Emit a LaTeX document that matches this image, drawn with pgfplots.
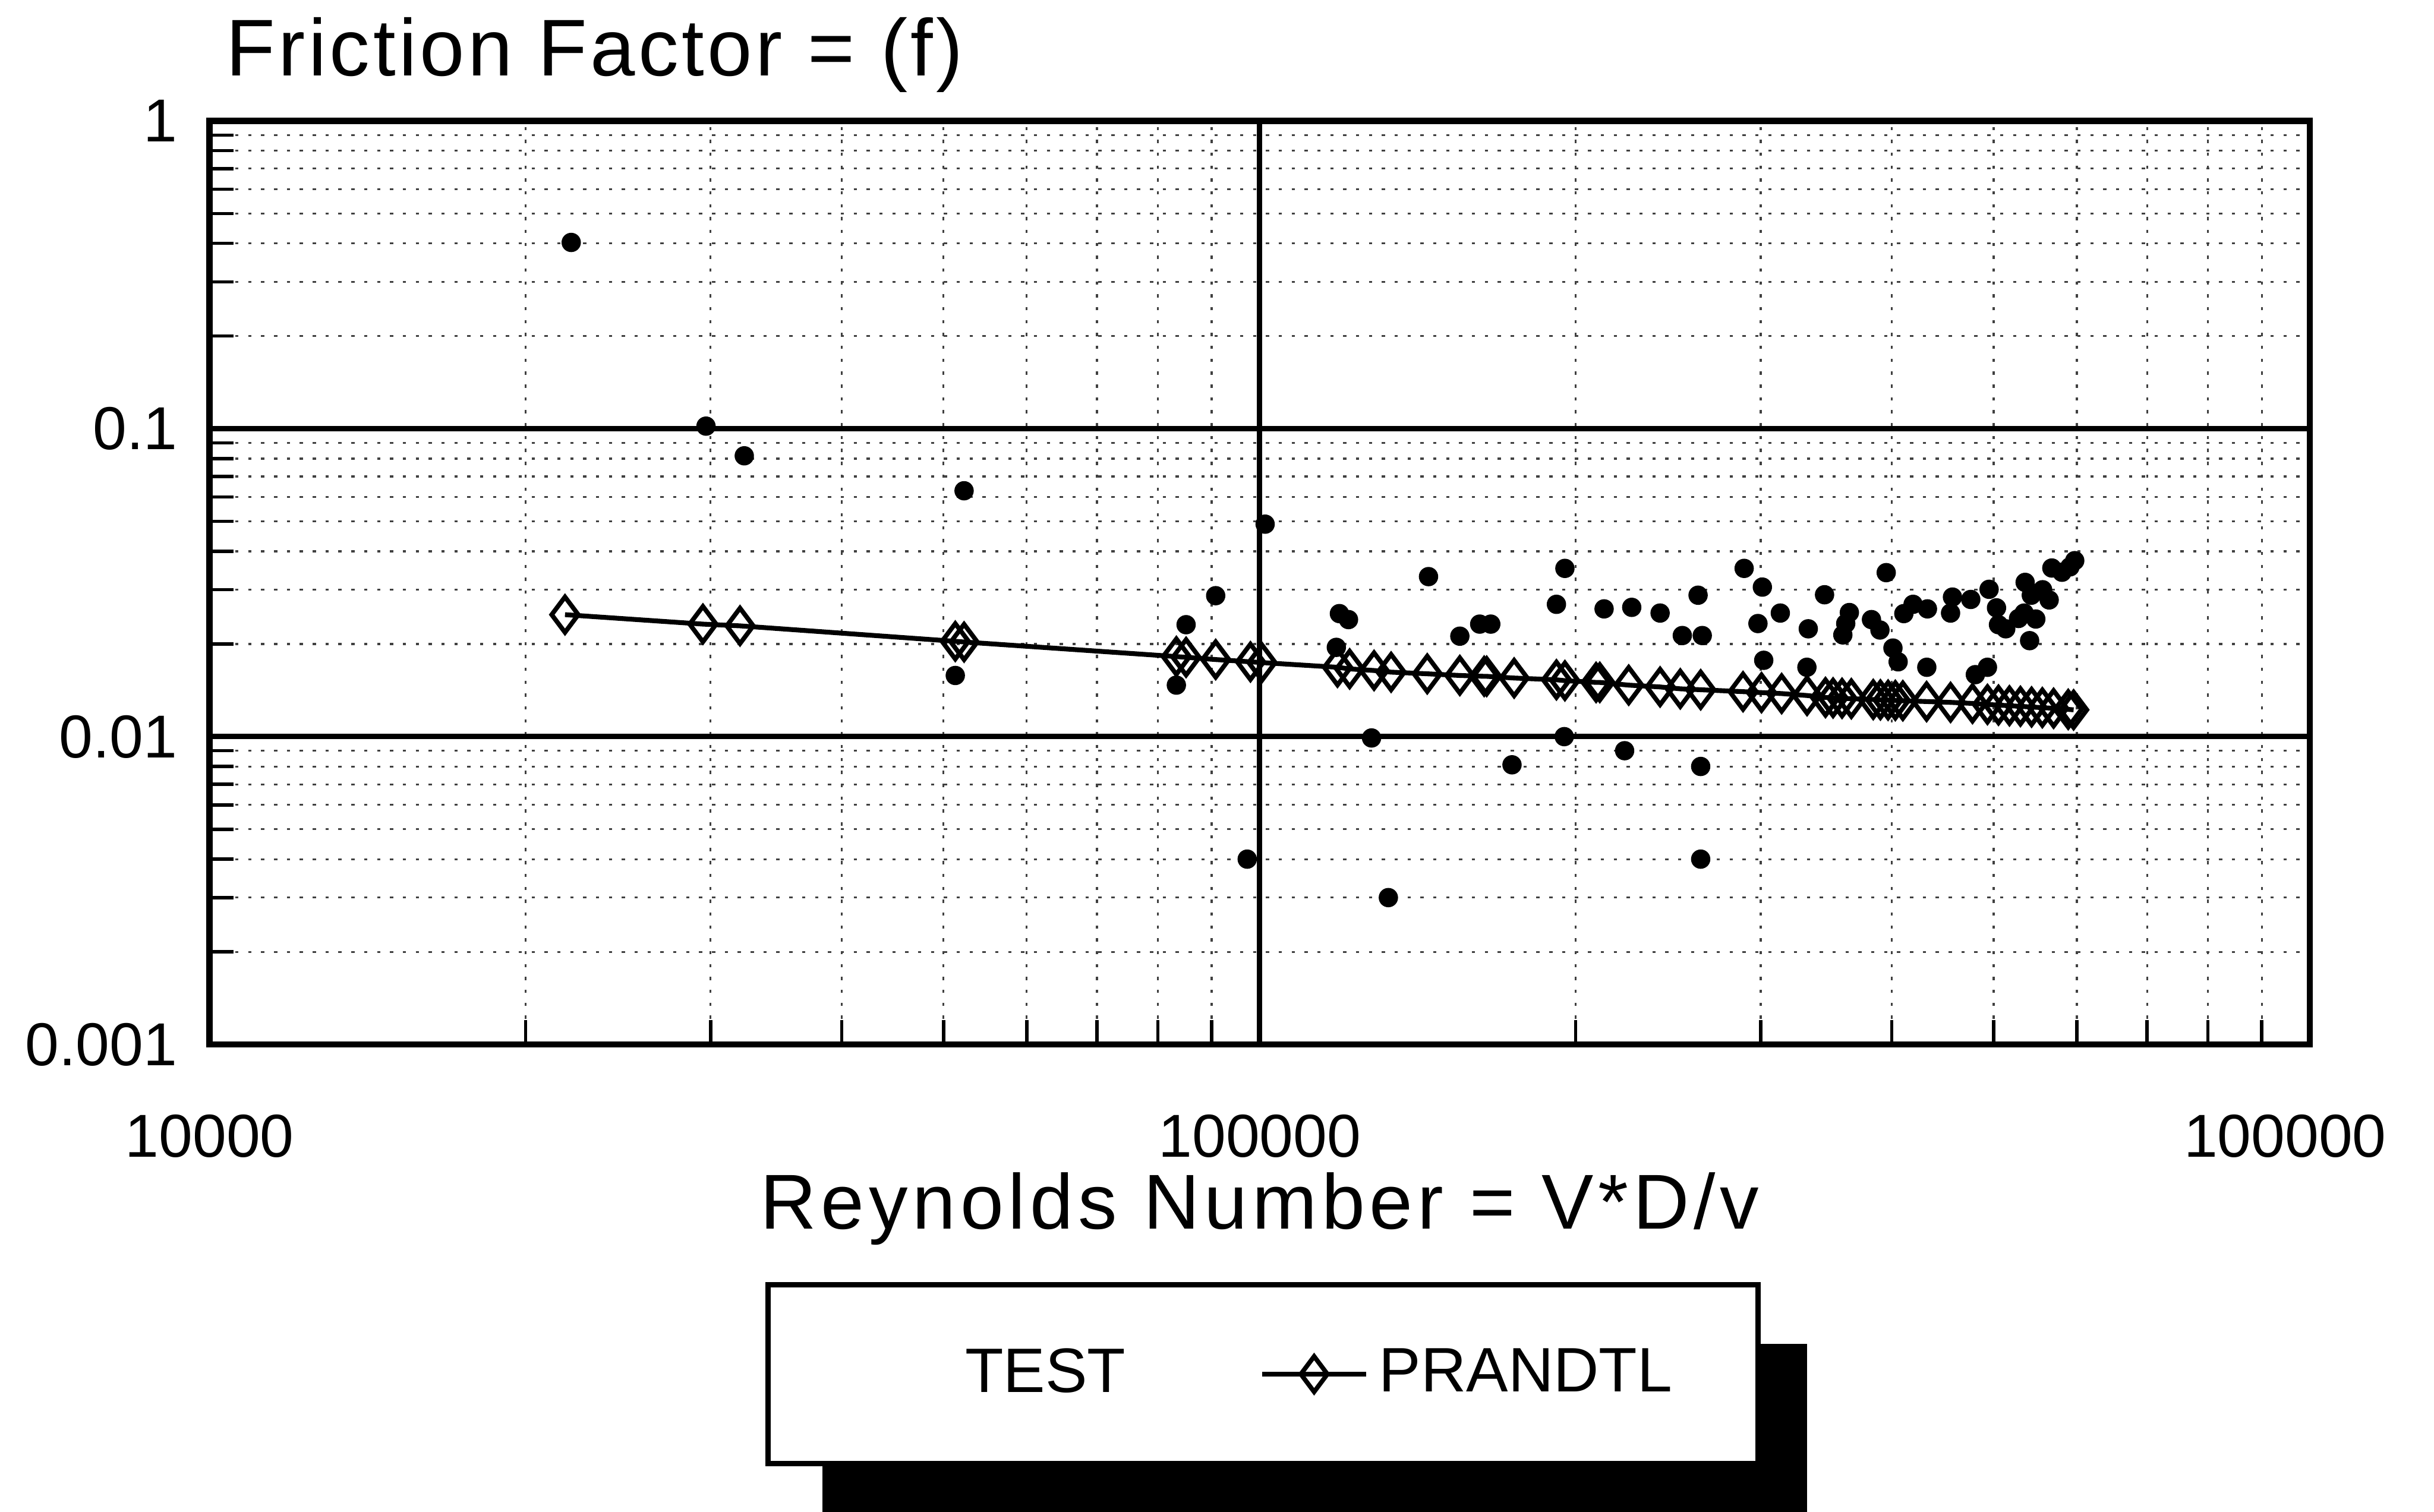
\documentclass[border=0pt]{standalone}
\usepackage{fontspec}
\setmainfont{Liberation Sans}
\newfontfamily\widefont[LetterSpace=4]{Liberation Sans}
\newfontfamily\widerfont[LetterSpace=6]{Liberation Sans}
\usepackage{pgfplots}
\pgfplotsset{compat=1.18}

\begin{document}
\begin{tikzpicture}
\begin{axis}[
    name=ax,
    scale only axis,
    width=391.3pt, height=172.1pt,
    clip=false,
    xmode=log, ymode=log,
    xmin=1e4, xmax=1e6,
    ymin=1e-3, ymax=1,
    xtick={1e4,1e5,1e6},
    xticklabels={10000,100000,{100000\hspace*{9.2pt}}},
    ytick={0.001,0.01,0.1,1},
    yticklabels={0.001,0.01,0.1,1},
    minor xtick={2e4,3e4,4e4,5e4,6e4,7e4,8e4,9e4,2e5,3e5,4e5,5e5,6e5,7e5,8e5,9e5},
    minor ytick={0.002,0.003,0.004,0.005,0.006,0.007,0.008,0.009,
                 0.02,0.03,0.04,0.05,0.06,0.07,0.08,0.09,
                 0.2,0.3,0.4,0.5,0.6,0.7,0.8,0.9},
    tick align=inside,
    tick pos=left,
    major tick length=0pt,
    minor tick length=4.5pt,
    grid=both,
    major grid style={black, line width=1pt},
    minor grid style={black!75, line width=0.35pt, dash pattern=on 0.6pt off 1.8pt},
    axis line style={line width=1.2pt},
    tick style={black, line width=0.6pt},
    tick label style={font=\fontsize{11.3}{13}\selectfont},
    xticklabel style={yshift=-9.5pt},
    yticklabel style={xshift=-2.5pt},
    every axis title shift=0pt,
    title={Friction Factor = (f)},
    title style={at={(0,1)}, anchor=base west, xshift=2.9pt, yshift=8.4pt,
                 inner sep=0pt, font=\widefont\fontsize{15}{18}\selectfont},
    xlabel={Reynolds Number = V*D/v},
    xlabel style={at={(axis description cs:0.5,0)}, anchor=base, yshift=-34.4pt,
                  inner sep=0pt, font=\widerfont\fontsize{14.5}{17}\selectfont},
    legend columns=2,
    legend style={at={(axis description cs:0.2645,-0.2571)}, anchor=north west,
                  draw=black, line width=1pt, fill=white,
                  inner xsep=14pt, inner ysep=9.85pt,
                  font=\fontsize{11.7}{14}\selectfont,
                  /tikz/every even column/.append style={column sep=23pt}},
]
% legend shadow (black block offset below right of the legend box)
\fill[black] (axis description cs:0.2918,-0.3243) rectangle (axis description cs:0.7605,-0.5300);
% TEST data (filled dots)
\addplot[only marks, mark=*, mark size=1.6pt, black,
         legend image code/.code={\path[draw=none,fill=none] (0cm,0cm) -- (0.73cm,0cm);}]
coordinates {
(22100,0.403) (29700,0.102) (32300,0.0817) (52300,0.0629) (51300,0.0158)
(101200,0.0490) (90800,0.0287) (85100,0.0231) (83300,0.0147)
(144800,0.0331) (119100,0.0251) (121500,0.0240) (118300,0.0195)
(155100,0.0212) (162000,0.0232) (166000,0.0232) (191700,0.0269) (195300,0.0352)
(127800,0.0099) (173900,0.0081) (97300,0.0040) (132600,0.0030)
(289300,0.0352) (395100,0.0341) (212800,0.0260) (226100,0.0263) (240600,0.0252)
(261500,0.0288) (252600,0.0213) (263900,0.0213) (301100,0.0306) (298200,0.0233)
(302000,0.0177) (313200,0.0252) (345100,0.0289) (333000,0.0224) (332000,0.0168)
(364400,0.0253) (361500,0.0233) (359200,0.0214) (382500,0.0240) (389700,0.0222)
(400900,0.0194) (405500,0.0175) (410600,0.0251) (419000,0.0269) (432400,0.0260)
(454900,0.0252) (456800,0.0284) (431800,0.0168) (475500,0.0279) (480300,0.0159)
(493200,0.0168) (495000,0.0301) (503100,0.0262) (505300,0.0231) (513400,0.0224)
(535700,0.0317) (528000,0.0242) (534500,0.0252) (548400,0.0241) (541000,0.0205)
(543000,0.0288) (556600,0.0300) (564700,0.0278) (568000,0.0353) (580800,0.0342)
(591000,0.0356) (597300,0.0373)
(195000,0.0100) (222600,0.0090) (263000,0.0080) (263000,0.0040)
};
\addlegendentry{TEST}
% PRANDTL curve
\addplot[black, line width=0.9pt, mark=diamond, mark size=3.3pt,
         mark options={solid, line width=0.85pt},
         legend image code/.code={\draw[mark repeat=2,mark phase=2]
            plot coordinates {(0cm,0cm) (0.34cm,0cm) (0.68cm,0cm)};}]
coordinates {
(21800,0.0249) (29500,0.0232) (32000,0.0229) (51300,0.0204) (52300,0.0203)
(83300,0.0182) (85100,0.0181) (90800,0.0178) (98000,0.0175) (100500,0.0174)
(118600,0.0168) (121800,0.0166) (128500,0.0164) (133400,0.0162) (144400,0.0160)
(155100,0.0158) (163600,0.0157) (164500,0.0157) (174700,0.0155) (191700,0.0153)
(195300,0.0152) (209100,0.0150) (210800,0.0150) (224600,0.0147) (240600,0.0145)
(251500,0.0143) (263000,0.0142) (288600,0.0140) (300500,0.0139) (314100,0.0138)
(332100,0.0136) (345800,0.01340) (351600,0.01336) (358600,0.01332) (366000,0.01328)
(384000,0.01320) (390100,0.01317) (396700,0.01314) (403000,0.01311) (409700,0.01308)
(431600,0.01300) (454900,0.01292) (477300,0.01282) (493200,0.01272) (505300,0.01266)
(517600,0.01260) (530200,0.01254) (543300,0.01248) (556300,0.01242) (570200,0.01236)
(588800,0.01226) (595800,0.01222)
};
\addlegendentry{PRANDTL}
\end{axis}
\pgfresetboundingbox
\path[use as bounding box] ([shift={(-39.04pt,-87.05pt)}]ax.south west)
      rectangle ([shift={(414.45pt,194.64pt)}]ax.south west);
\end{tikzpicture}
\end{document}
